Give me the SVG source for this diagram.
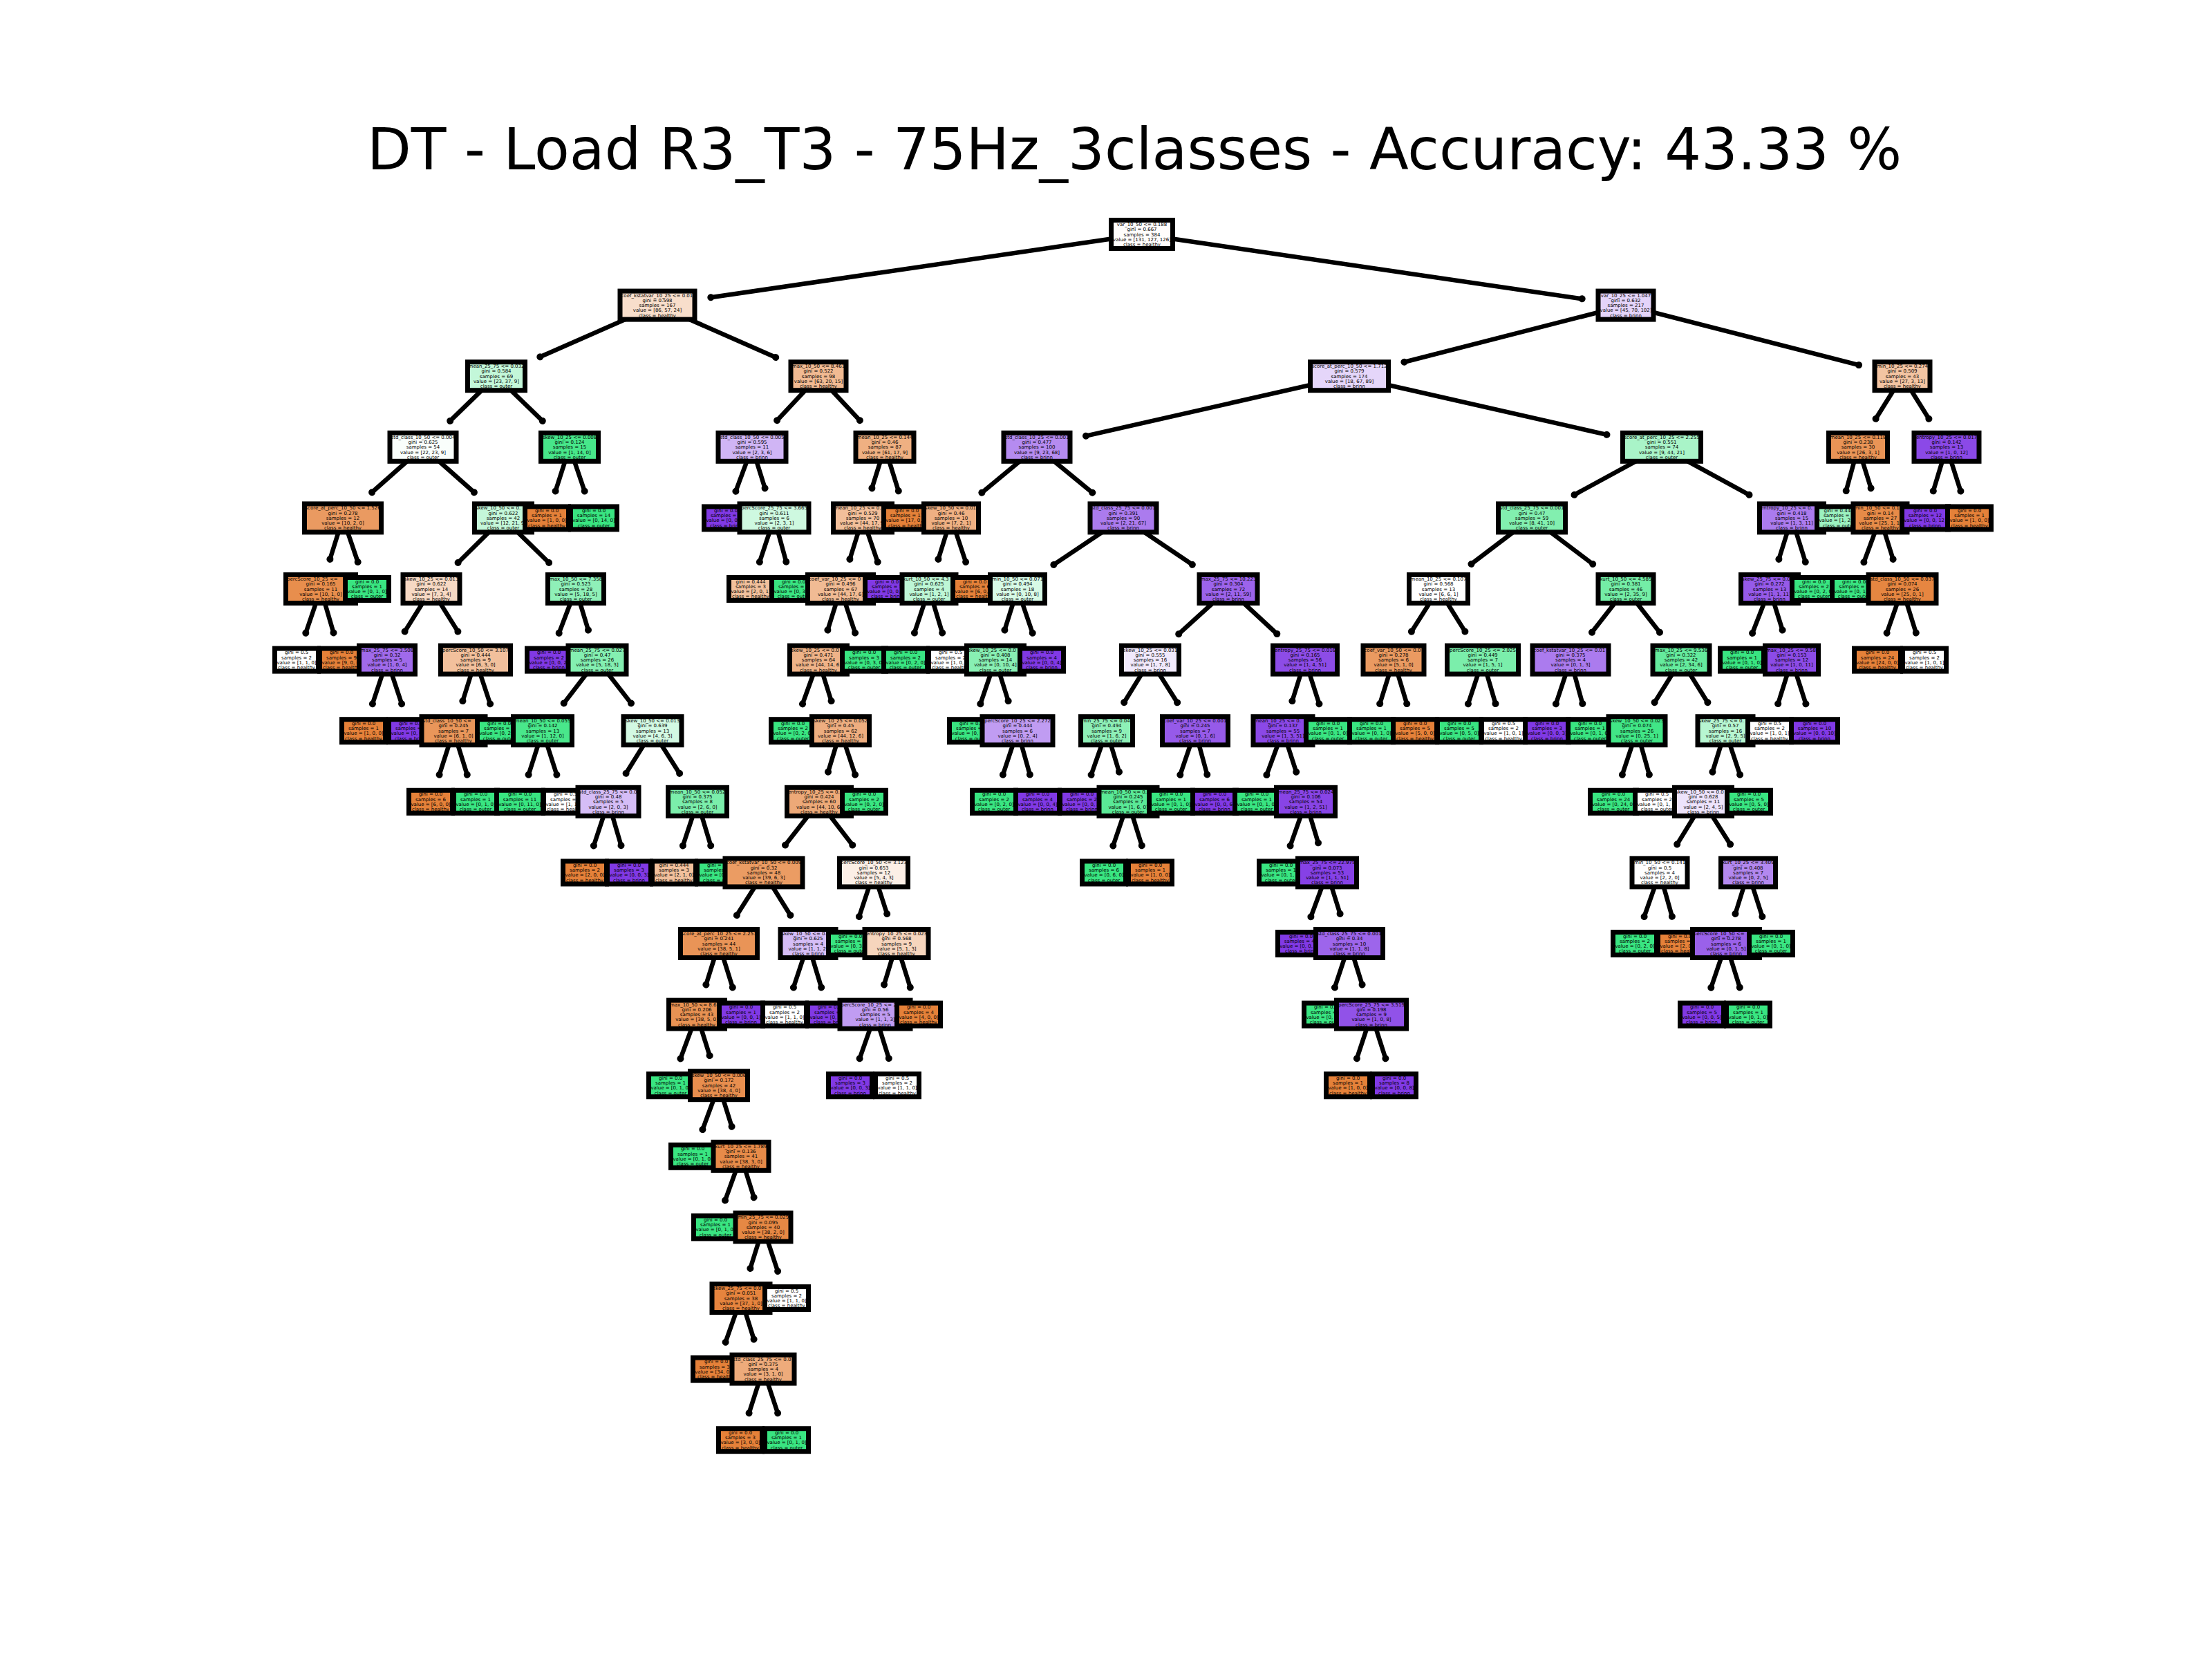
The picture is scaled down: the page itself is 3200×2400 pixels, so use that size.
<svg xmlns="http://www.w3.org/2000/svg" width="3200" height="2400" viewBox="0 0 3200 2400">
<defs>
<style>
.n rect{stroke:#000;stroke-width:7}
.n text{font-family:"DejaVu Sans","Liberation Sans",sans-serif;font-size:7px;text-anchor:middle;fill:#000}
.n text.s{text-anchor:start}
.h{fill:#e58139}.o{fill:#39e581}.b{fill:#8139e5}.w{fill:#ffffff}
#connectors path{fill:none;stroke:#000;stroke-width:6.5;marker-end:url(#dot)}
</style>
<marker id="dot" markerUnits="userSpaceOnUse" markerWidth="12" markerHeight="12" viewBox="-6 -6 12 12" refX="0" refY="0" orient="auto"><circle r="5" fill="#000"/></marker>
</defs>
<rect width="3200" height="2400" fill="#fff"/>
<text id="title" x="1641" y="245" style="font-family:'DejaVu Sans','Liberation Sans',sans-serif;font-size:83px;text-anchor:middle;fill:#000">DT - Load R3_T3 - 75Hz_3classes - Accuracy: 43.33 %</text>
<g id="connectors">
<path d="M1652 339L1028.3 430.3"/><path d="M1652 339L2288.7 432.3"/>
<path d="M951 441.6L781.3 516.3"/><path d="M951 441.6L1122.2 517"/>
<path d="M718 544.2L651.2 608.9"/><path d="M718 544.2L784.8 608.9"/>
<path d="M612 646.8L538.1 712.2"/><path d="M612 646.8L685.9 712.2"/>
<path d="M496 749.4L477.4 808.9"/><path d="M496 749.4L517.7 813.1"/>
<path d="M464 852L442.3 915.7"/><path d="M464 852L482.5 915.4"/>
<path d="M728 749.4L662.6 814"/><path d="M728 749.4L794.1 814"/>
<path d="M624 852L585.6 913.6"/><path d="M624 852L662.4 913.6"/>
<path d="M560 954.6L538.9 1018.2"/><path d="M560 954.6L581.1 1018.2"/>
<path d="M688 954.6L669.4 1014.1"/><path d="M688 954.6L709.1 1018.2"/>
<path d="M656 1057.2L635.6 1120.8"/><path d="M656 1057.2L675.8 1120.7"/>
<path d="M833 852L808.7 915.9"/><path d="M833 852L851 911.5"/>
<path d="M864 954.6L815.7 1017.4"/><path d="M864 954.6L913 1017.4"/>
<path d="M785 1057.2L764.6 1120.8"/><path d="M785 1057.2L805.4 1120.8"/>
<path d="M944 1057.2L905.6 1118.8"/><path d="M944 1057.2L983.1 1118.9"/>
<path d="M880 1159.8L858.9 1223.4"/><path d="M880 1159.8L898.5 1223.2"/>
<path d="M1009 1159.8L987.9 1223.4"/><path d="M1009 1159.8L1028.2 1223.3"/>
<path d="M824 646.8L803.6 710.4"/><path d="M824 646.8L845.7 710.5"/>
<path d="M1184 544.2L1124.1 608.2"/><path d="M1184 544.2L1243.9 608.2"/>
<path d="M1088 646.8L1064.4 710.7"/><path d="M1088 646.8L1106.6 706.3"/>
<path d="M1120 749.4L1098.9 813"/><path d="M1120 749.4L1137.3 812.7"/>
<path d="M1280 646.8L1261.4 706.3"/><path d="M1280 646.8L1299.8 710.3"/>
<path d="M1248 749.4L1229.4 808.9"/><path d="M1248 749.4L1269.7 813.1"/>
<path d="M1216 852L1197.4 911.5"/><path d="M1216 852L1237.1 915.6"/>
<path d="M1184 954.6L1161 1018.4"/><path d="M1184 954.6L1202.6 1014.1"/>
<path d="M1216 1057.2L1198 1116.7"/><path d="M1216 1057.2L1237.1 1120.8"/>
<path d="M1185 1159.8L1136 1222.6"/><path d="M1185 1159.8L1233.3 1222.6"/>
<path d="M1105 1262.4L1065.9 1324.1"/><path d="M1105 1262.4L1143.4 1324"/>
<path d="M1040 1365L1021.4 1424.5"/><path d="M1040 1365L1059.8 1428.5"/>
<path d="M1008 1467.6L984.4 1531.5"/><path d="M1008 1467.6L1026.6 1527.1"/>
<path d="M1040 1570.2L1016.4 1634.1"/><path d="M1040 1570.2L1058.6 1629.7"/>
<path d="M1072 1672.8L1049 1736.6"/><path d="M1072 1672.8L1090.6 1732.3"/>
<path d="M1104 1775.4L1085.4 1834.9"/><path d="M1104 1775.4L1125.1 1839"/>
<path d="M1072 1878L1049.6 1941.7"/><path d="M1072 1878L1090.6 1937.5"/>
<path d="M1104 1980.6L1083.6 2044.2"/><path d="M1104 1980.6L1125.1 2044.2"/>
<path d="M1169 1365L1147.9 1428.6"/><path d="M1169 1365L1188.2 1428.5"/>
<path d="M1264 1262.4L1242.9 1326"/><path d="M1264 1262.4L1283.2 1322"/>
<path d="M1297 1365L1279 1424.5"/><path d="M1297 1365L1316.8 1428.5"/>
<path d="M1266 1467.6L1243.6 1531.3"/><path d="M1266 1467.6L1285.8 1531.1"/>
<path d="M2352 441.6L2031.4 523.8"/><path d="M2352 441.6L2689.1 528.1"/>
<path d="M1952 544.2L1571 630.7"/><path d="M1952 544.2L2324.5 628.8"/>
<path d="M1500 646.8L1420.4 712.7"/><path d="M1500 646.8L1580.3 712.7"/>
<path d="M1376 749.4L1357.4 808.9"/><path d="M1376 749.4L1397.1 813"/>
<path d="M1344 852L1322.9 915.6"/><path d="M1344 852L1363.2 915.5"/>
<path d="M1625 749.4L1524.4 816.9"/><path d="M1625 749.4L1724.9 816.8"/>
<path d="M1472 852L1453.4 911.5"/><path d="M1472 852L1493.7 915.7"/>
<path d="M1440 954.6L1418.3 1018.3"/><path d="M1440 954.6L1458.6 1014.1"/>
<path d="M1472 1057.2L1450.9 1120.8"/><path d="M1472 1057.2L1489.9 1120.6"/>
<path d="M1777 852L1705.2 917.2"/><path d="M1777 852L1847.3 917"/>
<path d="M1664 954.6L1626.2 1016.2"/><path d="M1664 954.6L1703.1 1016.3"/>
<path d="M1601 1057.2L1578.6 1120.9"/><path d="M1601 1057.2L1619 1116.7"/>
<path d="M1632 1159.8L1610.3 1223.5"/><path d="M1632 1159.8L1651.8 1223.3"/>
<path d="M1729 1057.2L1707.3 1120.9"/><path d="M1729 1057.2L1746.3 1120.5"/>
<path d="M1888 954.6L1869.4 1014.1"/><path d="M1888 954.6L1908.4 1018.2"/>
<path d="M1856 1057.2L1832.4 1121.1"/><path d="M1856 1057.2L1875.2 1116.8"/>
<path d="M1889 1159.8L1866.6 1223.5"/><path d="M1889 1159.8L1907 1219.3"/>
<path d="M1920 1262.4L1896.4 1326.3"/><path d="M1920 1262.4L1938.6 1321.9"/>
<path d="M1952 1365L1930.9 1428.6"/><path d="M1952 1365L1970.6 1424.5"/>
<path d="M1984 1467.6L1962.9 1531.2"/><path d="M1984 1467.6L2004.4 1531.2"/>
<path d="M2404 646.8L2277.5 715.8"/><path d="M2404 646.8L2530.5 715.8"/>
<path d="M2216 749.4L2128.5 815.9"/><path d="M2216 749.4L2304.2 816"/>
<path d="M2081 852L2041.9 913.7"/><path d="M2081 852L2119.4 913.6"/>
<path d="M2016 954.6L1996.2 1018.1"/><path d="M2016 954.6L2035.2 1018.1"/>
<path d="M2145 954.6L2123.9 1018.2"/><path d="M2145 954.6L2163.5 1018"/>
<path d="M2352 852L2303 914.8"/><path d="M2352 852L2401 914.8"/>
<path d="M2272 954.6L2250.9 1018.2"/><path d="M2272 954.6L2289.3 1017.9"/>
<path d="M2432 954.6L2393.6 1016.2"/><path d="M2432 954.6L2470.4 1016.2"/>
<path d="M2368 1057.2L2346.9 1120.8"/><path d="M2368 1057.2L2385.9 1120.6"/>
<path d="M2496 1057.2L2477.4 1116.7"/><path d="M2496 1057.2L2517.1 1120.8"/>
<path d="M2464 1159.8L2426.2 1221.4"/><path d="M2464 1159.8L2503.1 1221.5"/>
<path d="M2401 1262.4L2378.6 1326.1"/><path d="M2401 1262.4L2418.9 1325.8"/>
<path d="M2529 1262.4L2510.4 1321.9"/><path d="M2529 1262.4L2549.4 1326"/>
<path d="M2497 1365L2475.3 1428.7"/><path d="M2497 1365L2516.8 1428.5"/>
<path d="M2592 749.4L2573.4 808.9"/><path d="M2592 749.4L2611.8 812.9"/>
<path d="M2560 852L2535.1 916"/><path d="M2560 852L2578.6 911.5"/>
<path d="M2592 954.6L2572.2 1018.1"/><path d="M2592 954.6L2612.4 1018.2"/>
<path d="M2752 544.2L2713.6 605.8"/><path d="M2752 544.2L2790.4 605.8"/>
<path d="M2688 646.8L2670.7 710.1"/><path d="M2688 646.8L2706.6 706.3"/>
<path d="M2720 749.4L2696.4 813.3"/><path d="M2720 749.4L2738.6 808.9"/>
<path d="M2752 852L2729.6 915.7"/><path d="M2752 852L2771.8 915.5"/>
<path d="M2816 646.8L2796.8 710.3"/><path d="M2816 646.8L2836.4 710.4"/>
</g>
<g id="n0" class="n" transform="translate(1652 339)"><rect x="-44.5" y="-20.5" width="89" height="41" fill="#fffdfc"/><text y="-12">var_10_50 &lt;= 0.188</text><text><tspan x="0" y="-4.75">gini = 0.667</tspan><tspan x="0" y="2.5">samples = 384</tspan><tspan x="0" y="9.75">value = [131, 127, 126]</tspan><tspan x="0" y="17">class = healthy</tspan></text></g>
<g id="n1" class="n" transform="translate(951 441.6)"><rect x="-54" y="-20.5" width="108" height="41" fill="#f8decb"/><text class="s" x="-52.5" y="-12">coef_kstatvar_10_25 &lt;= 0.01</text><text><tspan x="0" y="-4.75">gini = 0.598</tspan><tspan x="0" y="2.5">samples = 167</tspan><tspan x="0" y="9.75">value = [86, 57, 24]</tspan><tspan x="0" y="17">class = healthy</tspan></text></g>
<g id="n2" class="n" transform="translate(718 544.2)"><rect x="-41.5" y="-20.5" width="83" height="41" fill="#c3f7d9"/><text y="-12">mean_25_75 &lt;= 0.032</text><text><tspan x="0" y="-4.75">gini = 0.584</tspan><tspan x="0" y="2.5">samples = 69</tspan><tspan x="0" y="9.75">value = [23, 37, 9]</tspan><tspan x="0" y="17">class = outer</tspan></text></g>
<g id="n3" class="n" transform="translate(612 646.8)"><rect x="-48" y="-20.5" width="96" height="41" fill="#f9fefb"/><text y="-12">std_class_10_50 &lt;= 0.004</text><text><tspan x="0" y="-4.75">gini = 0.625</tspan><tspan x="0" y="2.5">samples = 54</tspan><tspan x="0" y="9.75">value = [22, 23, 9]</tspan><tspan x="0" y="17">class = outer</tspan></text></g>
<g id="n4" class="n" transform="translate(496 749.4)"><rect x="-55.5" y="-20.5" width="111" height="41" fill="#ea9a61"/><text y="-12">score_at_perc_10_50 &lt;= 1.526</text><text><tspan x="0" y="-4.75">gini = 0.278</tspan><tspan x="0" y="2.5">samples = 12</tspan><tspan x="0" y="9.75">value = [10, 2, 0]</tspan><tspan x="0" y="17">class = healthy</tspan></text></g>
<g id="n5" class="n" transform="translate(464 852)"><rect x="-50.5" y="-20.5" width="101" height="41" fill="#e88e4d"/><text class="s" x="-49" y="-12">percScore_10_25 &lt;=</text><text><tspan x="0" y="-4.75">gini = 0.165</tspan><tspan x="0" y="2.5">samples = 11</tspan><tspan x="0" y="9.75">value = [10, 1, 0]</tspan><tspan x="0" y="17">class = healthy</tspan></text></g>
<g id="n6" class="n" transform="translate(429 954.6)"><rect x="-31.5" y="-16.5" width="63" height="33" class="w"/><text><tspan x="0" y="-8.4">gini = 0.5</tspan><tspan x="0" y="-1.1">samples = 2</tspan><tspan x="0" y="6.1">value = [1, 1, 0]</tspan><tspan x="0" y="13.4">class = healthy</tspan></text></g>
<g id="n7" class="n" transform="translate(494 954.6)"><rect x="-31.5" y="-16.5" width="63" height="33" class="h"/><text><tspan x="0" y="-8.4">gini = 0.0</tspan><tspan x="0" y="-1.1">samples = 9</tspan><tspan x="0" y="6.1">value = [9, 0, 0]</tspan><tspan x="0" y="13.4">class = healthy</tspan></text></g>
<g id="n8" class="n" transform="translate(531 852)"><rect x="-31.5" y="-16.5" width="63" height="33" class="o"/><text><tspan x="0" y="-8.4">gini = 0.0</tspan><tspan x="0" y="-1.1">samples = 1</tspan><tspan x="0" y="6.1">value = [0, 1, 0]</tspan><tspan x="0" y="13.4">class = outer</tspan></text></g>
<g id="n9" class="n" transform="translate(728 749.4)"><rect x="-41.5" y="-20.5" width="83" height="41" fill="#c4f7d9"/><text class="s" x="-40" y="-12">skew_10_50 &lt;= 0.</text><text><tspan x="0" y="-4.75">gini = 0.622</tspan><tspan x="0" y="2.5">samples = 42</tspan><tspan x="0" y="9.75">value = [12, 21, 9]</tspan><tspan x="0" y="17">class = outer</tspan></text></g>
<g id="n10" class="n" transform="translate(624 852)"><rect x="-41" y="-20.5" width="82" height="41" fill="#f7d9c4"/><text y="-12">skew_10_25 &lt;= 0.013</text><text><tspan x="0" y="-4.75">gini = 0.622</tspan><tspan x="0" y="2.5">samples = 14</tspan><tspan x="0" y="9.75">value = [7, 3, 4]</tspan><tspan x="0" y="17">class = healthy</tspan></text></g>
<g id="n11" class="n" transform="translate(560 954.6)"><rect x="-40.5" y="-20.5" width="81" height="41" fill="#a06aeb"/><text y="-12">max_25_75 &lt;= 3.508</text><text><tspan x="0" y="-4.75">gini = 0.32</tspan><tspan x="0" y="2.5">samples = 5</tspan><tspan x="0" y="9.75">value = [1, 0, 4]</tspan><tspan x="0" y="17">class = brinn</tspan></text></g>
<g id="n12" class="n" transform="translate(526 1057.2)"><rect x="-31.5" y="-16.5" width="63" height="33" class="h"/><text><tspan x="0" y="-8.4">gini = 0.0</tspan><tspan x="0" y="-1.1">samples = 1</tspan><tspan x="0" y="6.1">value = [1, 0, 0]</tspan><tspan x="0" y="13.4">class = healthy</tspan></text></g>
<g id="n13" class="n" transform="translate(594 1057.2)"><rect x="-31.5" y="-16.5" width="63" height="33" class="b"/><text><tspan x="0" y="-8.4">gini = 0.0</tspan><tspan x="0" y="-1.1">samples = 4</tspan><tspan x="0" y="6.1">value = [0, 0, 4]</tspan><tspan x="0" y="13.4">class = brinn</tspan></text></g>
<g id="n14" class="n" transform="translate(688 954.6)"><rect x="-50.5" y="-20.5" width="101" height="41" fill="#f2c09c"/><text y="-12">percScore_10_50 &lt;= 3.107</text><text><tspan x="0" y="-4.75">gini = 0.444</tspan><tspan x="0" y="2.5">samples = 9</tspan><tspan x="0" y="9.75">value = [6, 3, 0]</tspan><tspan x="0" y="17">class = healthy</tspan></text></g>
<g id="n15" class="n" transform="translate(656 1057.2)"><rect x="-46" y="-20.5" width="92" height="41" fill="#e9965a"/><text class="s" x="-44.5" y="-12">std_class_10_50 &lt;=</text><text><tspan x="0" y="-4.75">gini = 0.245</tspan><tspan x="0" y="2.5">samples = 7</tspan><tspan x="0" y="9.75">value = [6, 1, 0]</tspan><tspan x="0" y="17">class = healthy</tspan></text></g>
<g id="n16" class="n" transform="translate(623 1159.8)"><rect x="-31.5" y="-16.5" width="63" height="33" class="h"/><text><tspan x="0" y="-8.4">gini = 0.0</tspan><tspan x="0" y="-1.1">samples = 6</tspan><tspan x="0" y="6.1">value = [6, 0, 0]</tspan><tspan x="0" y="13.4">class = healthy</tspan></text></g>
<g id="n17" class="n" transform="translate(688 1159.8)"><rect x="-31.5" y="-16.5" width="63" height="33" class="o"/><text><tspan x="0" y="-8.4">gini = 0.0</tspan><tspan x="0" y="-1.1">samples = 1</tspan><tspan x="0" y="6.1">value = [0, 1, 0]</tspan><tspan x="0" y="13.4">class = outer</tspan></text></g>
<g id="n18" class="n" transform="translate(722 1057.2)"><rect x="-31.5" y="-16.5" width="63" height="33" class="o"/><text><tspan x="0" y="-8.4">gini = 0.0</tspan><tspan x="0" y="-1.1">samples = 2</tspan><tspan x="0" y="6.1">value = [0, 2, 0]</tspan><tspan x="0" y="13.4">class = outer</tspan></text></g>
<g id="n19" class="n" transform="translate(833 852)"><rect x="-40.5" y="-20.5" width="81" height="41" fill="#8ff0b8"/><text y="-12">max_10_50 &lt;= 7.358</text><text><tspan x="0" y="-4.75">gini = 0.523</tspan><tspan x="0" y="2.5">samples = 28</tspan><tspan x="0" y="9.75">value = [5, 18, 5]</tspan><tspan x="0" y="17">class = outer</tspan></text></g>
<g id="n20" class="n" transform="translate(794 954.6)"><rect x="-31.5" y="-16.5" width="63" height="33" class="b"/><text><tspan x="0" y="-8.4">gini = 0.0</tspan><tspan x="0" y="-1.1">samples = 2</tspan><tspan x="0" y="6.1">value = [0, 0, 2]</tspan><tspan x="0" y="13.4">class = brinn</tspan></text></g>
<g id="n21" class="n" transform="translate(864 954.6)"><rect x="-42" y="-20.5" width="84" height="41" fill="#84efb1"/><text y="-12">mean_25_75 &lt;= 0.027</text><text><tspan x="0" y="-4.75">gini = 0.47</tspan><tspan x="0" y="2.5">samples = 26</tspan><tspan x="0" y="9.75">value = [5, 18, 3]</tspan><tspan x="0" y="17">class = outer</tspan></text></g>
<g id="n22" class="n" transform="translate(785 1057.2)"><rect x="-42.5" y="-20.5" width="85" height="41" fill="#49e78b"/><text y="-12">mean_10_50 &lt;= 0.055</text><text><tspan x="0" y="-4.75">gini = 0.142</tspan><tspan x="0" y="2.5">samples = 13</tspan><tspan x="0" y="9.75">value = [1, 12, 0]</tspan><tspan x="0" y="17">class = outer</tspan></text></g>
<g id="n23" class="n" transform="translate(752 1159.8)"><rect x="-33.5" y="-16.5" width="67" height="33" class="o"/><text><tspan x="0" y="-8.4">gini = 0.0</tspan><tspan x="0" y="-1.1">samples = 11</tspan><tspan x="0" y="6.1">value = [0, 11, 0]</tspan><tspan x="0" y="13.4">class = outer</tspan></text></g>
<g id="n24" class="n" transform="translate(818 1159.8)"><rect x="-31.5" y="-16.5" width="63" height="33" class="w"/><text><tspan x="0" y="-8.4">gini = 0.5</tspan><tspan x="0" y="-1.1">samples = 2</tspan><tspan x="0" y="6.1">value = [1, 1, 0]</tspan><tspan x="0" y="13.4">class = healthy</tspan></text></g>
<g id="n25" class="n" transform="translate(944 1057.2)"><rect x="-42" y="-20.5" width="84" height="41" fill="#d3f9e3"/><text y="-12">skew_10_50 &lt;= 0.013</text><text><tspan x="0" y="-4.75">gini = 0.639</tspan><tspan x="0" y="2.5">samples = 13</tspan><tspan x="0" y="9.75">value = [4, 6, 3]</tspan><tspan x="0" y="17">class = outer</tspan></text></g>
<g id="n26" class="n" transform="translate(880 1159.8)"><rect x="-44" y="-20.5" width="88" height="41" fill="#d5bdf6"/><text class="s" x="-42.5" y="-12">std_class_25_75 &lt;= 0.0</text><text><tspan x="0" y="-4.75">gini = 0.48</tspan><tspan x="0" y="2.5">samples = 5</tspan><tspan x="0" y="9.75">value = [2, 0, 3]</tspan><tspan x="0" y="17">class = brinn</tspan></text></g>
<g id="n27" class="n" transform="translate(846 1262.4)"><rect x="-31.5" y="-16.5" width="63" height="33" class="h"/><text><tspan x="0" y="-8.4">gini = 0.0</tspan><tspan x="0" y="-1.1">samples = 2</tspan><tspan x="0" y="6.1">value = [2, 0, 0]</tspan><tspan x="0" y="13.4">class = healthy</tspan></text></g>
<g id="n28" class="n" transform="translate(910 1262.4)"><rect x="-31.5" y="-16.5" width="63" height="33" class="b"/><text><tspan x="0" y="-8.4">gini = 0.0</tspan><tspan x="0" y="-1.1">samples = 3</tspan><tspan x="0" y="6.1">value = [0, 0, 3]</tspan><tspan x="0" y="13.4">class = brinn</tspan></text></g>
<g id="n29" class="n" transform="translate(1009 1159.8)"><rect x="-42.5" y="-20.5" width="85" height="41" fill="#7beeab"/><text y="-12">mean_10_50 &lt;= 0.052</text><text><tspan x="0" y="-4.75">gini = 0.375</tspan><tspan x="0" y="2.5">samples = 8</tspan><tspan x="0" y="9.75">value = [2, 6, 0]</tspan><tspan x="0" y="17">class = outer</tspan></text></g>
<g id="n30" class="n" transform="translate(975 1262.4)"><rect x="-31.5" y="-16.5" width="63" height="33" fill="#f2c09c"/><text><tspan x="0" y="-8.4">gini = 0.444</tspan><tspan x="0" y="-1.1">samples = 3</tspan><tspan x="0" y="6.1">value = [2, 1, 0]</tspan><tspan x="0" y="13.4">class = healthy</tspan></text></g>
<g id="n31" class="n" transform="translate(1040 1262.4)"><rect x="-31.5" y="-16.5" width="63" height="33" class="o"/><text><tspan x="0" y="-8.4">gini = 0.0</tspan><tspan x="0" y="-1.1">samples = 5</tspan><tspan x="0" y="6.1">value = [0, 5, 0]</tspan><tspan x="0" y="13.4">class = outer</tspan></text></g>
<g id="n32" class="n" transform="translate(824 646.8)"><rect x="-41.5" y="-20.5" width="83" height="41" fill="#47e78a"/><text y="-12">skew_10_25 &lt;= 0.008</text><text><tspan x="0" y="-4.75">gini = 0.124</tspan><tspan x="0" y="2.5">samples = 15</tspan><tspan x="0" y="9.75">value = [1, 14, 0]</tspan><tspan x="0" y="17">class = outer</tspan></text></g>
<g id="n33" class="n" transform="translate(791 749.4)"><rect x="-31.5" y="-16.5" width="63" height="33" class="h"/><text><tspan x="0" y="-8.4">gini = 0.0</tspan><tspan x="0" y="-1.1">samples = 1</tspan><tspan x="0" y="6.1">value = [1, 0, 0]</tspan><tspan x="0" y="13.4">class = healthy</tspan></text></g>
<g id="n34" class="n" transform="translate(859 749.4)"><rect x="-33.5" y="-16.5" width="67" height="33" class="o"/><text><tspan x="0" y="-8.4">gini = 0.0</tspan><tspan x="0" y="-1.1">samples = 14</tspan><tspan x="0" y="6.1">value = [0, 14, 0]</tspan><tspan x="0" y="13.4">class = outer</tspan></text></g>
<g id="n35" class="n" transform="translate(1184 544.2)"><rect x="-40" y="-20.5" width="80" height="41" fill="#f1ba92"/><text y="-12">max_10_50 &lt;= 8.461</text><text><tspan x="0" y="-4.75">gini = 0.522</tspan><tspan x="0" y="2.5">samples = 98</tspan><tspan x="0" y="9.75">value = [63, 20, 15]</tspan><tspan x="0" y="17">class = healthy</tspan></text></g>
<g id="n36" class="n" transform="translate(1088 646.8)"><rect x="-49" y="-20.5" width="98" height="41" fill="#d0b5f5"/><text y="-12">std_class_10_50 &lt;= 0.005</text><text><tspan x="0" y="-4.75">gini = 0.595</tspan><tspan x="0" y="2.5">samples = 11</tspan><tspan x="0" y="9.75">value = [2, 3, 6]</tspan><tspan x="0" y="17">class = brinn</tspan></text></g>
<g id="n37" class="n" transform="translate(1050 749.4)"><rect x="-31.5" y="-16.5" width="63" height="33" class="b"/><text><tspan x="0" y="-8.4">gini = 0.0</tspan><tspan x="0" y="-1.1">samples = 5</tspan><tspan x="0" y="6.1">value = [0, 0, 5]</tspan><tspan x="0" y="13.4">class = brinn</tspan></text></g>
<g id="n38" class="n" transform="translate(1120 749.4)"><rect x="-50" y="-20.5" width="100" height="41" fill="#cef9e0"/><text y="-12">percScore_25_75 &lt;= 3.665</text><text><tspan x="0" y="-4.75">gini = 0.611</tspan><tspan x="0" y="2.5">samples = 6</tspan><tspan x="0" y="9.75">value = [2, 3, 1]</tspan><tspan x="0" y="17">class = outer</tspan></text></g>
<g id="n39" class="n" transform="translate(1086 852)"><rect x="-31.5" y="-16.5" width="63" height="33" fill="#f2c09c"/><text><tspan x="0" y="-8.4">gini = 0.444</tspan><tspan x="0" y="-1.1">samples = 3</tspan><tspan x="0" y="6.1">value = [2, 0, 1]</tspan><tspan x="0" y="13.4">class = healthy</tspan></text></g>
<g id="n40" class="n" transform="translate(1148 852)"><rect x="-31.5" y="-16.5" width="63" height="33" class="o"/><text><tspan x="0" y="-8.4">gini = 0.0</tspan><tspan x="0" y="-1.1">samples = 3</tspan><tspan x="0" y="6.1">value = [0, 3, 0]</tspan><tspan x="0" y="13.4">class = outer</tspan></text></g>
<g id="n41" class="n" transform="translate(1280 646.8)"><rect x="-42" y="-20.5" width="84" height="41" fill="#efb082"/><text y="-12">mean_10_25 &lt;= 0.144</text><text><tspan x="0" y="-4.75">gini = 0.46</tspan><tspan x="0" y="2.5">samples = 87</tspan><tspan x="0" y="9.75">value = [61, 17, 9]</tspan><tspan x="0" y="17">class = healthy</tspan></text></g>
<g id="n42" class="n" transform="translate(1248 749.4)"><rect x="-42.5" y="-20.5" width="85" height="41" fill="#f2bf9a"/><text class="s" x="-41" y="-12">mean_10_25 &lt;= 0.1</text><text><tspan x="0" y="-4.75">gini = 0.529</tspan><tspan x="0" y="2.5">samples = 70</tspan><tspan x="0" y="9.75">value = [44, 17, 9]</tspan><tspan x="0" y="17">class = healthy</tspan></text></g>
<g id="n43" class="n" transform="translate(1216 852)"><rect x="-47.5" y="-20.5" width="95" height="41" fill="#f1bb94"/><text class="s" x="-46" y="-12">coef_var_10_25 &lt;= 0</text><text><tspan x="0" y="-4.75">gini = 0.496</tspan><tspan x="0" y="2.5">samples = 67</tspan><tspan x="0" y="9.75">value = [44, 17, 6]</tspan><tspan x="0" y="17">class = healthy</tspan></text></g>
<g id="n44" class="n" transform="translate(1184 954.6)"><rect x="-41.5" y="-20.5" width="83" height="41" fill="#efb388"/><text class="s" x="-40" y="-12">skew_10_25 &lt;= 0.0</text><text><tspan x="0" y="-4.75">gini = 0.471</tspan><tspan x="0" y="2.5">samples = 64</tspan><tspan x="0" y="9.75">value = [44, 14, 6]</tspan><tspan x="0" y="17">class = healthy</tspan></text></g>
<g id="n45" class="n" transform="translate(1147 1057.2)"><rect x="-31.5" y="-16.5" width="63" height="33" class="o"/><text><tspan x="0" y="-8.4">gini = 0.0</tspan><tspan x="0" y="-1.1">samples = 2</tspan><tspan x="0" y="6.1">value = [0, 2, 0]</tspan><tspan x="0" y="13.4">class = outer</tspan></text></g>
<g id="n46" class="n" transform="translate(1216 1057.2)"><rect x="-41.5" y="-20.5" width="83" height="41" fill="#eeae80"/><text y="-12">skew_10_25 &lt;= 0.052</text><text><tspan x="0" y="-4.75">gini = 0.45</tspan><tspan x="0" y="2.5">samples = 62</tspan><tspan x="0" y="9.75">value = [44, 12, 6]</tspan><tspan x="0" y="17">class = healthy</tspan></text></g>
<g id="n47" class="n" transform="translate(1185 1159.8)"><rect x="-46.5" y="-20.5" width="93" height="41" fill="#eda978"/><text class="s" x="-45" y="-12">entropy_10_25 &lt;= 0.</text><text><tspan x="0" y="-4.75">gini = 0.424</tspan><tspan x="0" y="2.5">samples = 60</tspan><tspan x="0" y="9.75">value = [44, 10, 6]</tspan><tspan x="0" y="17">class = healthy</tspan></text></g>
<g id="n48" class="n" transform="translate(1105 1262.4)"><rect x="-56" y="-20.5" width="112" height="41" fill="#eb9c63"/><text y="-12">coef_kstatvar_10_50 &lt;= 0.009</text><text><tspan x="0" y="-4.75">gini = 0.32</tspan><tspan x="0" y="2.5">samples = 48</tspan><tspan x="0" y="9.75">value = [39, 6, 3]</tspan><tspan x="0" y="17">class = healthy</tspan></text></g>
<g id="n49" class="n" transform="translate(1040 1365)"><rect x="-55.5" y="-20.5" width="111" height="41" fill="#e99457"/><text y="-12">score_at_perc_10_25 &lt;= 2.251</text><text><tspan x="0" y="-4.75">gini = 0.241</tspan><tspan x="0" y="2.5">samples = 44</tspan><tspan x="0" y="9.75">value = [38, 5, 1]</tspan><tspan x="0" y="17">class = healthy</tspan></text></g>
<g id="n50" class="n" transform="translate(1008 1467.6)"><rect x="-40.5" y="-20.5" width="81" height="41" fill="#e89253"/><text class="s" x="-39" y="-12">max_10_50 &lt;= 8.6</text><text><tspan x="0" y="-4.75">gini = 0.206</tspan><tspan x="0" y="2.5">samples = 43</tspan><tspan x="0" y="9.75">value = [38, 5, 0]</tspan><tspan x="0" y="17">class = healthy</tspan></text></g>
<g id="n51" class="n" transform="translate(970 1570.2)"><rect x="-31.5" y="-16.5" width="63" height="33" class="o"/><text><tspan x="0" y="-8.4">gini = 0.0</tspan><tspan x="0" y="-1.1">samples = 1</tspan><tspan x="0" y="6.1">value = [0, 1, 0]</tspan><tspan x="0" y="13.4">class = outer</tspan></text></g>
<g id="n52" class="n" transform="translate(1040 1570.2)"><rect x="-41.5" y="-20.5" width="83" height="41" fill="#e88e4e"/><text y="-12">skew_10_50 &lt;= 0.006</text><text><tspan x="0" y="-4.75">gini = 0.172</tspan><tspan x="0" y="2.5">samples = 42</tspan><tspan x="0" y="9.75">value = [38, 4, 0]</tspan><tspan x="0" y="17">class = healthy</tspan></text></g>
<g id="n53" class="n" transform="translate(1002 1672.8)"><rect x="-31.5" y="-16.5" width="63" height="33" class="o"/><text><tspan x="0" y="-8.4">gini = 0.0</tspan><tspan x="0" y="-1.1">samples = 1</tspan><tspan x="0" y="6.1">value = [0, 1, 0]</tspan><tspan x="0" y="13.4">class = outer</tspan></text></g>
<g id="n54" class="n" transform="translate(1072 1672.8)"><rect x="-40" y="-20.5" width="80" height="41" fill="#e78b49"/><text y="-12">kurt_10_25 &lt;= 1.789</text><text><tspan x="0" y="-4.75">gini = 0.136</tspan><tspan x="0" y="2.5">samples = 41</tspan><tspan x="0" y="9.75">value = [38, 3, 0]</tspan><tspan x="0" y="17">class = healthy</tspan></text></g>
<g id="n55" class="n" transform="translate(1035 1775.4)"><rect x="-31.5" y="-16.5" width="63" height="33" class="o"/><text><tspan x="0" y="-8.4">gini = 0.0</tspan><tspan x="0" y="-1.1">samples = 1</tspan><tspan x="0" y="6.1">value = [0, 1, 0]</tspan><tspan x="0" y="13.4">class = outer</tspan></text></g>
<g id="n56" class="n" transform="translate(1104 1775.4)"><rect x="-40" y="-20.5" width="80" height="41" fill="#e68844"/><text y="-12">min_25_75 &lt;= 0.029</text><text><tspan x="0" y="-4.75">gini = 0.095</tspan><tspan x="0" y="2.5">samples = 40</tspan><tspan x="0" y="9.75">value = [38, 2, 0]</tspan><tspan x="0" y="17">class = healthy</tspan></text></g>
<g id="n57" class="n" transform="translate(1072 1878)"><rect x="-42" y="-20.5" width="84" height="41" fill="#e6843e"/><text class="s" x="-40.5" y="-12">skew_25_75 &lt;= 0.0</text><text><tspan x="0" y="-4.75">gini = 0.051</tspan><tspan x="0" y="2.5">samples = 38</tspan><tspan x="0" y="9.75">value = [37, 1, 0]</tspan><tspan x="0" y="17">class = healthy</tspan></text></g>
<g id="n58" class="n" transform="translate(1036 1980.6)"><rect x="-33.5" y="-16.5" width="67" height="33" class="h"/><text><tspan x="0" y="-8.4">gini = 0.0</tspan><tspan x="0" y="-1.1">samples = 34</tspan><tspan x="0" y="6.1">value = [34, 0, 0]</tspan><tspan x="0" y="13.4">class = healthy</tspan></text></g>
<g id="n59" class="n" transform="translate(1104 1980.6)"><rect x="-45" y="-20.5" width="90" height="41" fill="#eeab7b"/><text class="s" x="-43.5" y="-12">std_class_25_75 &lt;= 0.0</text><text><tspan x="0" y="-4.75">gini = 0.375</tspan><tspan x="0" y="2.5">samples = 4</tspan><tspan x="0" y="9.75">value = [3, 1, 0]</tspan><tspan x="0" y="17">class = healthy</tspan></text></g>
<g id="n60" class="n" transform="translate(1071 2083.2)"><rect x="-31.5" y="-16.5" width="63" height="33" class="h"/><text><tspan x="0" y="-8.4">gini = 0.0</tspan><tspan x="0" y="-1.1">samples = 3</tspan><tspan x="0" y="6.1">value = [3, 0, 0]</tspan><tspan x="0" y="13.4">class = healthy</tspan></text></g>
<g id="n61" class="n" transform="translate(1138 2083.2)"><rect x="-31.5" y="-16.5" width="63" height="33" class="o"/><text><tspan x="0" y="-8.4">gini = 0.0</tspan><tspan x="0" y="-1.1">samples = 1</tspan><tspan x="0" y="6.1">value = [0, 1, 0]</tspan><tspan x="0" y="13.4">class = outer</tspan></text></g>
<g id="n62" class="n" transform="translate(1138 1878)"><rect x="-31.5" y="-16.5" width="63" height="33" class="w"/><text><tspan x="0" y="-8.4">gini = 0.5</tspan><tspan x="0" y="-1.1">samples = 2</tspan><tspan x="0" y="6.1">value = [1, 1, 0]</tspan><tspan x="0" y="13.4">class = healthy</tspan></text></g>
<g id="n63" class="n" transform="translate(1072 1467.6)"><rect x="-31.5" y="-16.5" width="63" height="33" class="b"/><text><tspan x="0" y="-8.4">gini = 0.0</tspan><tspan x="0" y="-1.1">samples = 1</tspan><tspan x="0" y="6.1">value = [0, 0, 1]</tspan><tspan x="0" y="13.4">class = brinn</tspan></text></g>
<g id="n64" class="n" transform="translate(1169 1365)"><rect x="-40" y="-20.5" width="80" height="41" fill="#d5bdf6"/><text class="s" x="-38.5" y="-12">skew_10_50 &lt;= 0.0</text><text><tspan x="0" y="-4.75">gini = 0.625</tspan><tspan x="0" y="2.5">samples = 4</tspan><tspan x="0" y="9.75">value = [1, 1, 2]</tspan><tspan x="0" y="17">class = brinn</tspan></text></g>
<g id="n65" class="n" transform="translate(1135 1467.6)"><rect x="-31.5" y="-16.5" width="63" height="33" class="w"/><text><tspan x="0" y="-8.4">gini = 0.5</tspan><tspan x="0" y="-1.1">samples = 2</tspan><tspan x="0" y="6.1">value = [1, 1, 0]</tspan><tspan x="0" y="13.4">class = healthy</tspan></text></g>
<g id="n66" class="n" transform="translate(1200 1467.6)"><rect x="-31.5" y="-16.5" width="63" height="33" class="b"/><text><tspan x="0" y="-8.4">gini = 0.0</tspan><tspan x="0" y="-1.1">samples = 2</tspan><tspan x="0" y="6.1">value = [0, 0, 2]</tspan><tspan x="0" y="13.4">class = brinn</tspan></text></g>
<g id="n67" class="n" transform="translate(1264 1262.4)"><rect x="-49.5" y="-20.5" width="99" height="41" fill="#fcefe6"/><text y="-12">percScore_10_50 &lt;= 3.123</text><text><tspan x="0" y="-4.75">gini = 0.653</tspan><tspan x="0" y="2.5">samples = 12</tspan><tspan x="0" y="9.75">value = [5, 4, 3]</tspan><tspan x="0" y="17">class = healthy</tspan></text></g>
<g id="n68" class="n" transform="translate(1230 1365)"><rect x="-31.5" y="-16.5" width="63" height="33" class="o"/><text><tspan x="0" y="-8.4">gini = 0.0</tspan><tspan x="0" y="-1.1">samples = 3</tspan><tspan x="0" y="6.1">value = [0, 3, 0]</tspan><tspan x="0" y="13.4">class = outer</tspan></text></g>
<g id="n69" class="n" transform="translate(1297 1365)"><rect x="-46" y="-20.5" width="92" height="41" fill="#f6d5bd"/><text y="-12">entropy_10_25 &lt;= 0.023</text><text><tspan x="0" y="-4.75">gini = 0.568</tspan><tspan x="0" y="2.5">samples = 9</tspan><tspan x="0" y="9.75">value = [5, 1, 3]</tspan><tspan x="0" y="17">class = healthy</tspan></text></g>
<g id="n70" class="n" transform="translate(1266 1467.6)"><rect x="-51" y="-20.5" width="102" height="41" fill="#c09cf2"/><text class="s" x="-49.5" y="-12">percScore_10_25 &lt;= 2</text><text><tspan x="0" y="-4.75">gini = 0.56</tspan><tspan x="0" y="2.5">samples = 5</tspan><tspan x="0" y="9.75">value = [1, 1, 3]</tspan><tspan x="0" y="17">class = brinn</tspan></text></g>
<g id="n71" class="n" transform="translate(1230 1570.2)"><rect x="-31.5" y="-16.5" width="63" height="33" class="b"/><text><tspan x="0" y="-8.4">gini = 0.0</tspan><tspan x="0" y="-1.1">samples = 3</tspan><tspan x="0" y="6.1">value = [0, 0, 3]</tspan><tspan x="0" y="13.4">class = brinn</tspan></text></g>
<g id="n72" class="n" transform="translate(1298 1570.2)"><rect x="-31.5" y="-16.5" width="63" height="33" class="w"/><text><tspan x="0" y="-8.4">gini = 0.5</tspan><tspan x="0" y="-1.1">samples = 2</tspan><tspan x="0" y="6.1">value = [1, 1, 0]</tspan><tspan x="0" y="13.4">class = healthy</tspan></text></g>
<g id="n73" class="n" transform="translate(1329 1467.6)"><rect x="-31.5" y="-16.5" width="63" height="33" class="h"/><text><tspan x="0" y="-8.4">gini = 0.0</tspan><tspan x="0" y="-1.1">samples = 4</tspan><tspan x="0" y="6.1">value = [4, 0, 0]</tspan><tspan x="0" y="13.4">class = healthy</tspan></text></g>
<g id="n74" class="n" transform="translate(1250 1159.8)"><rect x="-31.5" y="-16.5" width="63" height="33" class="o"/><text><tspan x="0" y="-8.4">gini = 0.0</tspan><tspan x="0" y="-1.1">samples = 2</tspan><tspan x="0" y="6.1">value = [0, 2, 0]</tspan><tspan x="0" y="13.4">class = outer</tspan></text></g>
<g id="n75" class="n" transform="translate(1250 954.6)"><rect x="-31.5" y="-16.5" width="63" height="33" class="o"/><text><tspan x="0" y="-8.4">gini = 0.0</tspan><tspan x="0" y="-1.1">samples = 3</tspan><tspan x="0" y="6.1">value = [0, 3, 0]</tspan><tspan x="0" y="13.4">class = outer</tspan></text></g>
<g id="n76" class="n" transform="translate(1283 852)"><rect x="-31.5" y="-16.5" width="63" height="33" class="b"/><text><tspan x="0" y="-8.4">gini = 0.0</tspan><tspan x="0" y="-1.1">samples = 3</tspan><tspan x="0" y="6.1">value = [0, 0, 3]</tspan><tspan x="0" y="13.4">class = brinn</tspan></text></g>
<g id="n77" class="n" transform="translate(1312 749.4)"><rect x="-33.5" y="-16.5" width="67" height="33" class="h"/><text><tspan x="0" y="-8.4">gini = 0.0</tspan><tspan x="0" y="-1.1">samples = 17</tspan><tspan x="0" y="6.1">value = [17, 0, 0]</tspan><tspan x="0" y="13.4">class = healthy</tspan></text></g>
<g id="n78" class="n" transform="translate(2352 441.6)"><rect x="-40" y="-20.5" width="80" height="41" fill="#e4d4f9"/><text y="-12">var_10_25 &lt;= 1.047</text><text><tspan x="0" y="-4.75">gini = 0.632</tspan><tspan x="0" y="2.5">samples = 217</tspan><tspan x="0" y="9.75">value = [45, 70, 102]</tspan><tspan x="0" y="17">class = brinn</tspan></text></g>
<g id="n79" class="n" transform="translate(1952 544.2)"><rect x="-56.5" y="-20.5" width="113" height="41" fill="#e5d6fa"/><text y="-12">score_at_perc_10_50 &lt;= 1.712</text><text><tspan x="0" y="-4.75">gini = 0.579</tspan><tspan x="0" y="2.5">samples = 174</tspan><tspan x="0" y="9.75">value = [18, 67, 89]</tspan><tspan x="0" y="17">class = brinn</tspan></text></g>
<g id="n80" class="n" transform="translate(1500 646.8)"><rect x="-48" y="-20.5" width="96" height="41" fill="#b58bf0"/><text y="-12">std_class_10_25 &lt;= 0.001</text><text><tspan x="0" y="-4.75">gini = 0.477</tspan><tspan x="0" y="2.5">samples = 100</tspan><tspan x="0" y="9.75">value = [9, 23, 68]</tspan><tspan x="0" y="17">class = brinn</tspan></text></g>
<g id="n81" class="n" transform="translate(1376 749.4)"><rect x="-39.5" y="-20.5" width="79" height="41" fill="#efb083"/><text class="s" x="-38" y="-12">skew_10_50 &lt;= 0.01</text><text><tspan x="0" y="-4.75">gini = 0.46</tspan><tspan x="0" y="2.5">samples = 10</tspan><tspan x="0" y="9.75">value = [7, 2, 1]</tspan><tspan x="0" y="17">class = healthy</tspan></text></g>
<g id="n82" class="n" transform="translate(1344 852)"><rect x="-39" y="-20.5" width="78" height="41" fill="#bdf6d5"/><text class="s" x="-37.5" y="-12">kurt_10_50 &lt;= 4.3</text><text><tspan x="0" y="-4.75">gini = 0.625</tspan><tspan x="0" y="2.5">samples = 4</tspan><tspan x="0" y="9.75">value = [1, 2, 1]</tspan><tspan x="0" y="17">class = outer</tspan></text></g>
<g id="n83" class="n" transform="translate(1310 954.6)"><rect x="-31.5" y="-16.5" width="63" height="33" class="o"/><text><tspan x="0" y="-8.4">gini = 0.0</tspan><tspan x="0" y="-1.1">samples = 2</tspan><tspan x="0" y="6.1">value = [0, 2, 0]</tspan><tspan x="0" y="13.4">class = outer</tspan></text></g>
<g id="n84" class="n" transform="translate(1375 954.6)"><rect x="-31.5" y="-16.5" width="63" height="33" class="w"/><text><tspan x="0" y="-8.4">gini = 0.5</tspan><tspan x="0" y="-1.1">samples = 2</tspan><tspan x="0" y="6.1">value = [1, 0, 1]</tspan><tspan x="0" y="13.4">class = healthy</tspan></text></g>
<g id="n85" class="n" transform="translate(1410 852)"><rect x="-31.5" y="-16.5" width="63" height="33" class="h"/><text><tspan x="0" y="-8.4">gini = 0.0</tspan><tspan x="0" y="-1.1">samples = 6</tspan><tspan x="0" y="6.1">value = [6, 0, 0]</tspan><tspan x="0" y="13.4">class = healthy</tspan></text></g>
<g id="n86" class="n" transform="translate(1625 749.4)"><rect x="-48" y="-20.5" width="96" height="41" fill="#ab7bee"/><text y="-12">std_class_25_75 &lt;= 0.001</text><text><tspan x="0" y="-4.75">gini = 0.391</tspan><tspan x="0" y="2.5">samples = 90</tspan><tspan x="0" y="9.75">value = [2, 21, 67]</tspan><tspan x="0" y="17">class = brinn</tspan></text></g>
<g id="n87" class="n" transform="translate(1472 852)"><rect x="-39.5" y="-20.5" width="79" height="41" fill="#d7fae6"/><text y="-12">min_10_50 &lt;= 0.071</text><text><tspan x="0" y="-4.75">gini = 0.494</tspan><tspan x="0" y="2.5">samples = 18</tspan><tspan x="0" y="9.75">value = [0, 10, 8]</tspan><tspan x="0" y="17">class = outer</tspan></text></g>
<g id="n88" class="n" transform="translate(1440 954.6)"><rect x="-41.5" y="-20.5" width="83" height="41" fill="#88efb3"/><text class="s" x="-40" y="-12">skew_10_25 &lt;= 0.0</text><text><tspan x="0" y="-4.75">gini = 0.408</tspan><tspan x="0" y="2.5">samples = 14</tspan><tspan x="0" y="9.75">value = [0, 10, 4]</tspan><tspan x="0" y="17">class = outer</tspan></text></g>
<g id="n89" class="n" transform="translate(1405 1057.2)"><rect x="-31.5" y="-16.5" width="63" height="33" class="o"/><text><tspan x="0" y="-8.4">gini = 0.0</tspan><tspan x="0" y="-1.1">samples = 8</tspan><tspan x="0" y="6.1">value = [0, 8, 0]</tspan><tspan x="0" y="13.4">class = outer</tspan></text></g>
<g id="n90" class="n" transform="translate(1472 1057.2)"><rect x="-51" y="-20.5" width="102" height="41" fill="#c09cf2"/><text y="-12">percScore_10_25 &lt;= 2.272</text><text><tspan x="0" y="-4.75">gini = 0.444</tspan><tspan x="0" y="2.5">samples = 6</tspan><tspan x="0" y="9.75">value = [0, 2, 4]</tspan><tspan x="0" y="17">class = brinn</tspan></text></g>
<g id="n91" class="n" transform="translate(1438 1159.8)"><rect x="-31.5" y="-16.5" width="63" height="33" class="o"/><text><tspan x="0" y="-8.4">gini = 0.0</tspan><tspan x="0" y="-1.1">samples = 2</tspan><tspan x="0" y="6.1">value = [0, 2, 0]</tspan><tspan x="0" y="13.4">class = outer</tspan></text></g>
<g id="n92" class="n" transform="translate(1501 1159.8)"><rect x="-31.5" y="-16.5" width="63" height="33" class="b"/><text><tspan x="0" y="-8.4">gini = 0.0</tspan><tspan x="0" y="-1.1">samples = 4</tspan><tspan x="0" y="6.1">value = [0, 0, 4]</tspan><tspan x="0" y="13.4">class = brinn</tspan></text></g>
<g id="n93" class="n" transform="translate(1507 954.6)"><rect x="-31.5" y="-16.5" width="63" height="33" class="b"/><text><tspan x="0" y="-8.4">gini = 0.0</tspan><tspan x="0" y="-1.1">samples = 4</tspan><tspan x="0" y="6.1">value = [0, 0, 4]</tspan><tspan x="0" y="13.4">class = brinn</tspan></text></g>
<g id="n94" class="n" transform="translate(1777 852)"><rect x="-42" y="-20.5" width="84" height="41" fill="#9c63eb"/><text y="-12">max_25_75 &lt;= 10.223</text><text><tspan x="0" y="-4.75">gini = 0.304</tspan><tspan x="0" y="2.5">samples = 72</tspan><tspan x="0" y="9.75">value = [2, 11, 59]</tspan><tspan x="0" y="17">class = brinn</tspan></text></g>
<g id="n95" class="n" transform="translate(1664 954.6)"><rect x="-41.5" y="-20.5" width="83" height="41" fill="#f1e9fc"/><text y="-12">skew_10_25 &lt;= 0.031</text><text><tspan x="0" y="-4.75">gini = 0.555</tspan><tspan x="0" y="2.5">samples = 16</tspan><tspan x="0" y="9.75">value = [1, 7, 8]</tspan><tspan x="0" y="17">class = brinn</tspan></text></g>
<g id="n96" class="n" transform="translate(1601 1057.2)"><rect x="-37.5" y="-20.5" width="75" height="41" fill="#8ef0b7"/><text class="s" x="-36" y="-12">min_25_75 &lt;= 0.04</text><text><tspan x="0" y="-4.75">gini = 0.494</tspan><tspan x="0" y="2.5">samples = 9</tspan><tspan x="0" y="9.75">value = [1, 6, 2]</tspan><tspan x="0" y="17">class = outer</tspan></text></g>
<g id="n97" class="n" transform="translate(1565 1159.8)"><rect x="-31.5" y="-16.5" width="63" height="33" class="b"/><text><tspan x="0" y="-8.4">gini = 0.0</tspan><tspan x="0" y="-1.1">samples = 2</tspan><tspan x="0" y="6.1">value = [0, 0, 2]</tspan><tspan x="0" y="13.4">class = brinn</tspan></text></g>
<g id="n98" class="n" transform="translate(1632 1159.8)"><rect x="-42" y="-20.5" width="84" height="41" fill="#5ae996"/><text class="s" x="-40.5" y="-12">mean_10_50 &lt;= 0.0</text><text><tspan x="0" y="-4.75">gini = 0.245</tspan><tspan x="0" y="2.5">samples = 7</tspan><tspan x="0" y="9.75">value = [1, 6, 0]</tspan><tspan x="0" y="17">class = outer</tspan></text></g>
<g id="n99" class="n" transform="translate(1597 1262.4)"><rect x="-31.5" y="-16.5" width="63" height="33" class="o"/><text><tspan x="0" y="-8.4">gini = 0.0</tspan><tspan x="0" y="-1.1">samples = 6</tspan><tspan x="0" y="6.1">value = [0, 6, 0]</tspan><tspan x="0" y="13.4">class = outer</tspan></text></g>
<g id="n100" class="n" transform="translate(1664 1262.4)"><rect x="-31.5" y="-16.5" width="63" height="33" class="h"/><text><tspan x="0" y="-8.4">gini = 0.0</tspan><tspan x="0" y="-1.1">samples = 1</tspan><tspan x="0" y="6.1">value = [1, 0, 0]</tspan><tspan x="0" y="13.4">class = healthy</tspan></text></g>
<g id="n101" class="n" transform="translate(1729 1057.2)"><rect x="-47.5" y="-20.5" width="95" height="41" fill="#965ae9"/><text y="-12">coef_var_10_25 &lt;= 0.001</text><text><tspan x="0" y="-4.75">gini = 0.245</tspan><tspan x="0" y="2.5">samples = 7</tspan><tspan x="0" y="9.75">value = [0, 1, 6]</tspan><tspan x="0" y="17">class = brinn</tspan></text></g>
<g id="n102" class="n" transform="translate(1694 1159.8)"><rect x="-31.5" y="-16.5" width="63" height="33" class="o"/><text><tspan x="0" y="-8.4">gini = 0.0</tspan><tspan x="0" y="-1.1">samples = 1</tspan><tspan x="0" y="6.1">value = [0, 1, 0]</tspan><tspan x="0" y="13.4">class = outer</tspan></text></g>
<g id="n103" class="n" transform="translate(1757 1159.8)"><rect x="-31.5" y="-16.5" width="63" height="33" class="b"/><text><tspan x="0" y="-8.4">gini = 0.0</tspan><tspan x="0" y="-1.1">samples = 6</tspan><tspan x="0" y="6.1">value = [0, 0, 6]</tspan><tspan x="0" y="13.4">class = brinn</tspan></text></g>
<g id="n104" class="n" transform="translate(1888 954.6)"><rect x="-46.5" y="-20.5" width="93" height="41" fill="#8d4ce7"/><text y="-12">entropy_25_75 &lt;= 0.016</text><text><tspan x="0" y="-4.75">gini = 0.165</tspan><tspan x="0" y="2.5">samples = 56</tspan><tspan x="0" y="9.75">value = [1, 4, 51]</tspan><tspan x="0" y="17">class = brinn</tspan></text></g>
<g id="n105" class="n" transform="translate(1856 1057.2)"><rect x="-43" y="-20.5" width="86" height="41" fill="#8b48e7"/><text class="s" x="-41.5" y="-12">mean_10_25 &lt;= 0.</text><text><tspan x="0" y="-4.75">gini = 0.137</tspan><tspan x="0" y="2.5">samples = 55</tspan><tspan x="0" y="9.75">value = [1, 3, 51]</tspan><tspan x="0" y="17">class = brinn</tspan></text></g>
<g id="n106" class="n" transform="translate(1818 1159.8)"><rect x="-31.5" y="-16.5" width="63" height="33" class="o"/><text><tspan x="0" y="-8.4">gini = 0.0</tspan><tspan x="0" y="-1.1">samples = 1</tspan><tspan x="0" y="6.1">value = [0, 1, 0]</tspan><tspan x="0" y="13.4">class = outer</tspan></text></g>
<g id="n107" class="n" transform="translate(1889 1159.8)"><rect x="-42.5" y="-20.5" width="85" height="41" fill="#8844e6"/><text y="-12">mean_25_75 &lt;= 0.024</text><text><tspan x="0" y="-4.75">gini = 0.106</tspan><tspan x="0" y="2.5">samples = 54</tspan><tspan x="0" y="9.75">value = [1, 2, 51]</tspan><tspan x="0" y="17">class = brinn</tspan></text></g>
<g id="n108" class="n" transform="translate(1853 1262.4)"><rect x="-31.5" y="-16.5" width="63" height="33" class="o"/><text><tspan x="0" y="-8.4">gini = 0.0</tspan><tspan x="0" y="-1.1">samples = 1</tspan><tspan x="0" y="6.1">value = [0, 1, 0]</tspan><tspan x="0" y="13.4">class = outer</tspan></text></g>
<g id="n109" class="n" transform="translate(1920 1262.4)"><rect x="-42.5" y="-20.5" width="85" height="41" fill="#8641e6"/><text y="-12">max_25_75 &lt;= 22.975</text><text><tspan x="0" y="-4.75">gini = 0.073</tspan><tspan x="0" y="2.5">samples = 53</tspan><tspan x="0" y="9.75">value = [1, 1, 51]</tspan><tspan x="0" y="17">class = brinn</tspan></text></g>
<g id="n110" class="n" transform="translate(1882 1365)"><rect x="-33.5" y="-16.5" width="67" height="33" class="b"/><text><tspan x="0" y="-8.4">gini = 0.0</tspan><tspan x="0" y="-1.1">samples = 43</tspan><tspan x="0" y="6.1">value = [0, 0, 43]</tspan><tspan x="0" y="13.4">class = brinn</tspan></text></g>
<g id="n111" class="n" transform="translate(1952 1365)"><rect x="-48.5" y="-20.5" width="97" height="41" fill="#9d65eb"/><text y="-12">std_class_25_75 &lt;= 0.001</text><text><tspan x="0" y="-4.75">gini = 0.34</tspan><tspan x="0" y="2.5">samples = 10</tspan><tspan x="0" y="9.75">value = [1, 1, 8]</tspan><tspan x="0" y="17">class = brinn</tspan></text></g>
<g id="n112" class="n" transform="translate(1918 1467.6)"><rect x="-31.5" y="-16.5" width="63" height="33" class="o"/><text><tspan x="0" y="-8.4">gini = 0.0</tspan><tspan x="0" y="-1.1">samples = 1</tspan><tspan x="0" y="6.1">value = [0, 1, 0]</tspan><tspan x="0" y="13.4">class = outer</tspan></text></g>
<g id="n113" class="n" transform="translate(1984 1467.6)"><rect x="-50.5" y="-20.5" width="101" height="41" fill="#9152e8"/><text y="-12">percScore_25_75 &lt;= 3.519</text><text><tspan x="0" y="-4.75">gini = 0.198</tspan><tspan x="0" y="2.5">samples = 9</tspan><tspan x="0" y="9.75">value = [1, 0, 8]</tspan><tspan x="0" y="17">class = brinn</tspan></text></g>
<g id="n114" class="n" transform="translate(1950 1570.2)"><rect x="-31.5" y="-16.5" width="63" height="33" class="h"/><text><tspan x="0" y="-8.4">gini = 0.0</tspan><tspan x="0" y="-1.1">samples = 1</tspan><tspan x="0" y="6.1">value = [1, 0, 0]</tspan><tspan x="0" y="13.4">class = healthy</tspan></text></g>
<g id="n115" class="n" transform="translate(2017 1570.2)"><rect x="-31.5" y="-16.5" width="63" height="33" class="b"/><text><tspan x="0" y="-8.4">gini = 0.0</tspan><tspan x="0" y="-1.1">samples = 8</tspan><tspan x="0" y="6.1">value = [0, 0, 8]</tspan><tspan x="0" y="13.4">class = brinn</tspan></text></g>
<g id="n116" class="n" transform="translate(1921 1057.2)"><rect x="-31.5" y="-16.5" width="63" height="33" class="o"/><text><tspan x="0" y="-8.4">gini = 0.0</tspan><tspan x="0" y="-1.1">samples = 1</tspan><tspan x="0" y="6.1">value = [0, 1, 0]</tspan><tspan x="0" y="13.4">class = outer</tspan></text></g>
<g id="n117" class="n" transform="translate(2404 646.8)"><rect x="-56.5" y="-20.5" width="113" height="41" fill="#a9f4c8"/><text y="-12">score_at_perc_10_25 &lt;= 2.255</text><text><tspan x="0" y="-4.75">gini = 0.551</tspan><tspan x="0" y="2.5">samples = 74</tspan><tspan x="0" y="9.75">value = [9, 44, 21]</tspan><tspan x="0" y="17">class = outer</tspan></text></g>
<g id="n118" class="n" transform="translate(2216 749.4)"><rect x="-48.5" y="-20.5" width="97" height="41" fill="#82efaf"/><text y="-12">std_class_25_75 &lt;= 0.001</text><text><tspan x="0" y="-4.75">gini = 0.47</tspan><tspan x="0" y="2.5">samples = 59</tspan><tspan x="0" y="9.75">value = [8, 41, 10]</tspan><tspan x="0" y="17">class = outer</tspan></text></g>
<g id="n119" class="n" transform="translate(2081 852)"><rect x="-42.5" y="-20.5" width="85" height="41" fill="#ffffff"/><text y="-12">mean_10_25 &lt;= 0.107</text><text><tspan x="0" y="-4.75">gini = 0.568</tspan><tspan x="0" y="2.5">samples = 13</tspan><tspan x="0" y="9.75">value = [6, 6, 1]</tspan><tspan x="0" y="17">class = healthy</tspan></text></g>
<g id="n120" class="n" transform="translate(2016 954.6)"><rect x="-44" y="-20.5" width="88" height="41" fill="#ea9a61"/><text class="s" x="-42.5" y="-12">coef_var_10_50 &lt;= 0.0</text><text><tspan x="0" y="-4.75">gini = 0.278</tspan><tspan x="0" y="2.5">samples = 6</tspan><tspan x="0" y="9.75">value = [5, 1, 0]</tspan><tspan x="0" y="17">class = healthy</tspan></text></g>
<g id="n121" class="n" transform="translate(1984 1057.2)"><rect x="-31.5" y="-16.5" width="63" height="33" class="o"/><text><tspan x="0" y="-8.4">gini = 0.0</tspan><tspan x="0" y="-1.1">samples = 1</tspan><tspan x="0" y="6.1">value = [0, 1, 0]</tspan><tspan x="0" y="13.4">class = outer</tspan></text></g>
<g id="n122" class="n" transform="translate(2047 1057.2)"><rect x="-31.5" y="-16.5" width="63" height="33" class="h"/><text><tspan x="0" y="-8.4">gini = 0.0</tspan><tspan x="0" y="-1.1">samples = 5</tspan><tspan x="0" y="6.1">value = [5, 0, 0]</tspan><tspan x="0" y="13.4">class = healthy</tspan></text></g>
<g id="n123" class="n" transform="translate(2145 954.6)"><rect x="-51.5" y="-20.5" width="103" height="41" fill="#7beeab"/><text y="-12">percScore_10_25 &lt;= 2.025</text><text><tspan x="0" y="-4.75">gini = 0.449</tspan><tspan x="0" y="2.5">samples = 7</tspan><tspan x="0" y="9.75">value = [1, 5, 1]</tspan><tspan x="0" y="17">class = outer</tspan></text></g>
<g id="n124" class="n" transform="translate(2111 1057.2)"><rect x="-31.5" y="-16.5" width="63" height="33" class="o"/><text><tspan x="0" y="-8.4">gini = 0.0</tspan><tspan x="0" y="-1.1">samples = 5</tspan><tspan x="0" y="6.1">value = [0, 5, 0]</tspan><tspan x="0" y="13.4">class = outer</tspan></text></g>
<g id="n125" class="n" transform="translate(2175 1057.2)"><rect x="-31.5" y="-16.5" width="63" height="33" class="w"/><text><tspan x="0" y="-8.4">gini = 0.5</tspan><tspan x="0" y="-1.1">samples = 2</tspan><tspan x="0" y="6.1">value = [1, 0, 1]</tspan><tspan x="0" y="13.4">class = healthy</tspan></text></g>
<g id="n126" class="n" transform="translate(2352 852)"><rect x="-40" y="-20.5" width="80" height="41" fill="#74eda6"/><text y="-12">kurt_10_50 &lt;= 4.585</text><text><tspan x="0" y="-4.75">gini = 0.381</tspan><tspan x="0" y="2.5">samples = 46</tspan><tspan x="0" y="9.75">value = [2, 35, 9]</tspan><tspan x="0" y="17">class = outer</tspan></text></g>
<g id="n127" class="n" transform="translate(2272 954.6)"><rect x="-55" y="-20.5" width="110" height="41" fill="#ab7bee"/><text class="s" x="-53.5" y="-12">coef_kstatvar_10_25 &lt;= 0.01</text><text><tspan x="0" y="-4.75">gini = 0.375</tspan><tspan x="0" y="2.5">samples = 4</tspan><tspan x="0" y="9.75">value = [0, 1, 3]</tspan><tspan x="0" y="17">class = brinn</tspan></text></g>
<g id="n128" class="n" transform="translate(2238 1057.2)"><rect x="-31.5" y="-16.5" width="63" height="33" class="b"/><text><tspan x="0" y="-8.4">gini = 0.0</tspan><tspan x="0" y="-1.1">samples = 3</tspan><tspan x="0" y="6.1">value = [0, 0, 3]</tspan><tspan x="0" y="13.4">class = brinn</tspan></text></g>
<g id="n129" class="n" transform="translate(2300 1057.2)"><rect x="-31.5" y="-16.5" width="63" height="33" class="o"/><text><tspan x="0" y="-8.4">gini = 0.0</tspan><tspan x="0" y="-1.1">samples = 1</tspan><tspan x="0" y="6.1">value = [0, 1, 0]</tspan><tspan x="0" y="13.4">class = outer</tspan></text></g>
<g id="n130" class="n" transform="translate(2432 954.6)"><rect x="-41" y="-20.5" width="82" height="41" fill="#65eb9d"/><text y="-12">max_10_25 &lt;= 9.536</text><text><tspan x="0" y="-4.75">gini = 0.322</tspan><tspan x="0" y="2.5">samples = 42</tspan><tspan x="0" y="9.75">value = [2, 34, 6]</tspan><tspan x="0" y="17">class = outer</tspan></text></g>
<g id="n131" class="n" transform="translate(2368 1057.2)"><rect x="-41" y="-20.5" width="82" height="41" fill="#41e686"/><text y="-12">skew_10_50 &lt;= 0.023</text><text><tspan x="0" y="-4.75">gini = 0.074</tspan><tspan x="0" y="2.5">samples = 26</tspan><tspan x="0" y="9.75">value = [0, 25, 1]</tspan><tspan x="0" y="17">class = outer</tspan></text></g>
<g id="n132" class="n" transform="translate(2334 1159.8)"><rect x="-33.5" y="-16.5" width="67" height="33" class="o"/><text><tspan x="0" y="-8.4">gini = 0.0</tspan><tspan x="0" y="-1.1">samples = 24</tspan><tspan x="0" y="6.1">value = [0, 24, 0]</tspan><tspan x="0" y="13.4">class = outer</tspan></text></g>
<g id="n133" class="n" transform="translate(2397 1159.8)"><rect x="-31.5" y="-16.5" width="63" height="33" class="w"/><text><tspan x="0" y="-8.4">gini = 0.5</tspan><tspan x="0" y="-1.1">samples = 2</tspan><tspan x="0" y="6.1">value = [0, 1, 1]</tspan><tspan x="0" y="13.4">class = outer</tspan></text></g>
<g id="n134" class="n" transform="translate(2496 1057.2)"><rect x="-40" y="-20.5" width="80" height="41" fill="#b7f6d1"/><text class="s" x="-38.5" y="-12">skew_25_75 &lt;= 0.</text><text><tspan x="0" y="-4.75">gini = 0.57</tspan><tspan x="0" y="2.5">samples = 16</tspan><tspan x="0" y="9.75">value = [2, 9, 5]</tspan><tspan x="0" y="17">class = outer</tspan></text></g>
<g id="n135" class="n" transform="translate(2464 1159.8)"><rect x="-41.5" y="-20.5" width="83" height="41" fill="#ede3fb"/><text class="s" x="-40" y="-12">skew_10_50 &lt;= 0.0</text><text><tspan x="0" y="-4.75">gini = 0.628</tspan><tspan x="0" y="2.5">samples = 11</tspan><tspan x="0" y="9.75">value = [2, 4, 5]</tspan><tspan x="0" y="17">class = brinn</tspan></text></g>
<g id="n136" class="n" transform="translate(2401 1262.4)"><rect x="-40" y="-20.5" width="80" height="41" fill="#ffffff"/><text y="-12">min_10_50 &lt;= 0.141</text><text><tspan x="0" y="-4.75">gini = 0.5</tspan><tspan x="0" y="2.5">samples = 4</tspan><tspan x="0" y="9.75">value = [2, 2, 0]</tspan><tspan x="0" y="17">class = healthy</tspan></text></g>
<g id="n137" class="n" transform="translate(2365 1365)"><rect x="-31.5" y="-16.5" width="63" height="33" class="o"/><text><tspan x="0" y="-8.4">gini = 0.0</tspan><tspan x="0" y="-1.1">samples = 2</tspan><tspan x="0" y="6.1">value = [0, 2, 0]</tspan><tspan x="0" y="13.4">class = outer</tspan></text></g>
<g id="n138" class="n" transform="translate(2430 1365)"><rect x="-31.5" y="-16.5" width="63" height="33" class="h"/><text><tspan x="0" y="-8.4">gini = 0.0</tspan><tspan x="0" y="-1.1">samples = 2</tspan><tspan x="0" y="6.1">value = [2, 0, 0]</tspan><tspan x="0" y="13.4">class = healthy</tspan></text></g>
<g id="n139" class="n" transform="translate(2529 1262.4)"><rect x="-39.5" y="-20.5" width="79" height="41" fill="#b388ef"/><text y="-12">kurt_10_25 &lt;= 3.409</text><text><tspan x="0" y="-4.75">gini = 0.408</tspan><tspan x="0" y="2.5">samples = 7</tspan><tspan x="0" y="9.75">value = [0, 2, 5]</tspan><tspan x="0" y="17">class = brinn</tspan></text></g>
<g id="n140" class="n" transform="translate(2497 1365)"><rect x="-48.5" y="-20.5" width="97" height="41" fill="#9a61ea"/><text class="s" x="-47" y="-12">percScore_10_50 &lt;=</text><text><tspan x="0" y="-4.75">gini = 0.278</tspan><tspan x="0" y="2.5">samples = 6</tspan><tspan x="0" y="9.75">value = [0, 1, 5]</tspan><tspan x="0" y="17">class = brinn</tspan></text></g>
<g id="n141" class="n" transform="translate(2462 1467.6)"><rect x="-31.5" y="-16.5" width="63" height="33" class="b"/><text><tspan x="0" y="-8.4">gini = 0.0</tspan><tspan x="0" y="-1.1">samples = 5</tspan><tspan x="0" y="6.1">value = [0, 0, 5]</tspan><tspan x="0" y="13.4">class = brinn</tspan></text></g>
<g id="n142" class="n" transform="translate(2529 1467.6)"><rect x="-31.5" y="-16.5" width="63" height="33" class="o"/><text><tspan x="0" y="-8.4">gini = 0.0</tspan><tspan x="0" y="-1.1">samples = 1</tspan><tspan x="0" y="6.1">value = [0, 1, 0]</tspan><tspan x="0" y="13.4">class = outer</tspan></text></g>
<g id="n143" class="n" transform="translate(2562 1365)"><rect x="-31.5" y="-16.5" width="63" height="33" class="o"/><text><tspan x="0" y="-8.4">gini = 0.0</tspan><tspan x="0" y="-1.1">samples = 1</tspan><tspan x="0" y="6.1">value = [0, 1, 0]</tspan><tspan x="0" y="13.4">class = outer</tspan></text></g>
<g id="n144" class="n" transform="translate(2530 1159.8)"><rect x="-31.5" y="-16.5" width="63" height="33" class="o"/><text><tspan x="0" y="-8.4">gini = 0.0</tspan><tspan x="0" y="-1.1">samples = 5</tspan><tspan x="0" y="6.1">value = [0, 5, 0]</tspan><tspan x="0" y="13.4">class = outer</tspan></text></g>
<g id="n145" class="n" transform="translate(2592 749.4)"><rect x="-46.5" y="-20.5" width="93" height="41" fill="#ab7bee"/><text class="s" x="-45" y="-12">entropy_10_25 &lt;= 0.</text><text><tspan x="0" y="-4.75">gini = 0.418</tspan><tspan x="0" y="2.5">samples = 15</tspan><tspan x="0" y="9.75">value = [1, 3, 11]</tspan><tspan x="0" y="17">class = brinn</tspan></text></g>
<g id="n146" class="n" transform="translate(2560 852)"><rect x="-41.5" y="-20.5" width="83" height="41" fill="#965ae9"/><text class="s" x="-40" y="-12">skew_25_75 &lt;= 0.0</text><text><tspan x="0" y="-4.75">gini = 0.272</tspan><tspan x="0" y="2.5">samples = 13</tspan><tspan x="0" y="9.75">value = [1, 1, 11]</tspan><tspan x="0" y="17">class = brinn</tspan></text></g>
<g id="n147" class="n" transform="translate(2520 954.6)"><rect x="-31.5" y="-16.5" width="63" height="33" class="o"/><text><tspan x="0" y="-8.4">gini = 0.0</tspan><tspan x="0" y="-1.1">samples = 1</tspan><tspan x="0" y="6.1">value = [0, 1, 0]</tspan><tspan x="0" y="13.4">class = outer</tspan></text></g>
<g id="n148" class="n" transform="translate(2592 954.6)"><rect x="-38.5" y="-20.5" width="77" height="41" fill="#8c4be7"/><text class="s" x="-37" y="-12">max_10_25 &lt;= 9.58</text><text><tspan x="0" y="-4.75">gini = 0.153</tspan><tspan x="0" y="2.5">samples = 12</tspan><tspan x="0" y="9.75">value = [1, 0, 11]</tspan><tspan x="0" y="17">class = brinn</tspan></text></g>
<g id="n149" class="n" transform="translate(2560 1057.2)"><rect x="-31.5" y="-16.5" width="63" height="33" class="w"/><text><tspan x="0" y="-8.4">gini = 0.5</tspan><tspan x="0" y="-1.1">samples = 2</tspan><tspan x="0" y="6.1">value = [1, 0, 1]</tspan><tspan x="0" y="13.4">class = healthy</tspan></text></g>
<g id="n150" class="n" transform="translate(2625 1057.2)"><rect x="-33.5" y="-16.5" width="67" height="33" class="b"/><text><tspan x="0" y="-8.4">gini = 0.0</tspan><tspan x="0" y="-1.1">samples = 10</tspan><tspan x="0" y="6.1">value = [0, 0, 10]</tspan><tspan x="0" y="13.4">class = brinn</tspan></text></g>
<g id="n151" class="n" transform="translate(2624 852)"><rect x="-31.5" y="-16.5" width="63" height="33" class="o"/><text><tspan x="0" y="-8.4">gini = 0.0</tspan><tspan x="0" y="-1.1">samples = 2</tspan><tspan x="0" y="6.1">value = [0, 2, 0]</tspan><tspan x="0" y="13.4">class = outer</tspan></text></g>
<g id="n152" class="n" transform="translate(2752 544.2)"><rect x="-40" y="-20.5" width="80" height="41" fill="#f3c4a2"/><text y="-12">min_10_25 &lt;= 0.274</text><text><tspan x="0" y="-4.75">gini = 0.509</tspan><tspan x="0" y="2.5">samples = 43</tspan><tspan x="0" y="9.75">value = [27, 3, 13]</tspan><tspan x="0" y="17">class = healthy</tspan></text></g>
<g id="n153" class="n" transform="translate(2688 646.8)"><rect x="-42.5" y="-20.5" width="85" height="41" fill="#e99456"/><text y="-12">mean_10_25 &lt;= 0.118</text><text><tspan x="0" y="-4.75">gini = 0.238</tspan><tspan x="0" y="2.5">samples = 30</tspan><tspan x="0" y="9.75">value = [26, 3, 1]</tspan><tspan x="0" y="17">class = healthy</tspan></text></g>
<g id="n154" class="n" transform="translate(2660 749.4)"><rect x="-31.5" y="-16.5" width="63" height="33" fill="#9cf2c0"/><text><tspan x="0" y="-8.4">gini = 0.444</tspan><tspan x="0" y="-1.1">samples = 3</tspan><tspan x="0" y="6.1">value = [1, 2, 0]</tspan><tspan x="0" y="13.4">class = outer</tspan></text></g>
<g id="n155" class="n" transform="translate(2720 749.4)"><rect x="-39" y="-20.5" width="78" height="41" fill="#e78b48"/><text class="s" x="-37.5" y="-12">min_10_50 &lt;= 0.1</text><text><tspan x="0" y="-4.75">gini = 0.14</tspan><tspan x="0" y="2.5">samples = 27</tspan><tspan x="0" y="9.75">value = [25, 1, 1]</tspan><tspan x="0" y="17">class = healthy</tspan></text></g>
<g id="n156" class="n" transform="translate(2682 852)"><rect x="-31.5" y="-16.5" width="63" height="33" class="o"/><text><tspan x="0" y="-8.4">gini = 0.0</tspan><tspan x="0" y="-1.1">samples = 1</tspan><tspan x="0" y="6.1">value = [0, 1, 0]</tspan><tspan x="0" y="13.4">class = outer</tspan></text></g>
<g id="n157" class="n" transform="translate(2752 852)"><rect x="-49" y="-20.5" width="98" height="41" fill="#e68641"/><text y="-12">std_class_10_50 &lt;= 0.037</text><text><tspan x="0" y="-4.75">gini = 0.074</tspan><tspan x="0" y="2.5">samples = 26</tspan><tspan x="0" y="9.75">value = [25, 0, 1]</tspan><tspan x="0" y="17">class = healthy</tspan></text></g>
<g id="n158" class="n" transform="translate(2716 954.6)"><rect x="-33.5" y="-16.5" width="67" height="33" class="h"/><text><tspan x="0" y="-8.4">gini = 0.0</tspan><tspan x="0" y="-1.1">samples = 24</tspan><tspan x="0" y="6.1">value = [24, 0, 0]</tspan><tspan x="0" y="13.4">class = healthy</tspan></text></g>
<g id="n159" class="n" transform="translate(2784 954.6)"><rect x="-31.5" y="-16.5" width="63" height="33" class="w"/><text><tspan x="0" y="-8.4">gini = 0.5</tspan><tspan x="0" y="-1.1">samples = 2</tspan><tspan x="0" y="6.1">value = [1, 0, 1]</tspan><tspan x="0" y="13.4">class = healthy</tspan></text></g>
<g id="n160" class="n" transform="translate(2816 646.8)"><rect x="-47" y="-20.5" width="94" height="41" fill="#8b49e7"/><text y="-12">entropy_10_25 &lt;= 0.017</text><text><tspan x="0" y="-4.75">gini = 0.142</tspan><tspan x="0" y="2.5">samples = 13</tspan><tspan x="0" y="9.75">value = [1, 0, 12]</tspan><tspan x="0" y="17">class = brinn</tspan></text></g>
<g id="n161" class="n" transform="translate(2785 749.4)"><rect x="-33.5" y="-16.5" width="67" height="33" class="b"/><text><tspan x="0" y="-8.4">gini = 0.0</tspan><tspan x="0" y="-1.1">samples = 12</tspan><tspan x="0" y="6.1">value = [0, 0, 12]</tspan><tspan x="0" y="13.4">class = brinn</tspan></text></g>
<g id="n162" class="n" transform="translate(2849 749.4)"><rect x="-31.5" y="-16.5" width="63" height="33" class="h"/><text><tspan x="0" y="-8.4">gini = 0.0</tspan><tspan x="0" y="-1.1">samples = 1</tspan><tspan x="0" y="6.1">value = [1, 0, 0]</tspan><tspan x="0" y="13.4">class = healthy</tspan></text></g>
</svg>
